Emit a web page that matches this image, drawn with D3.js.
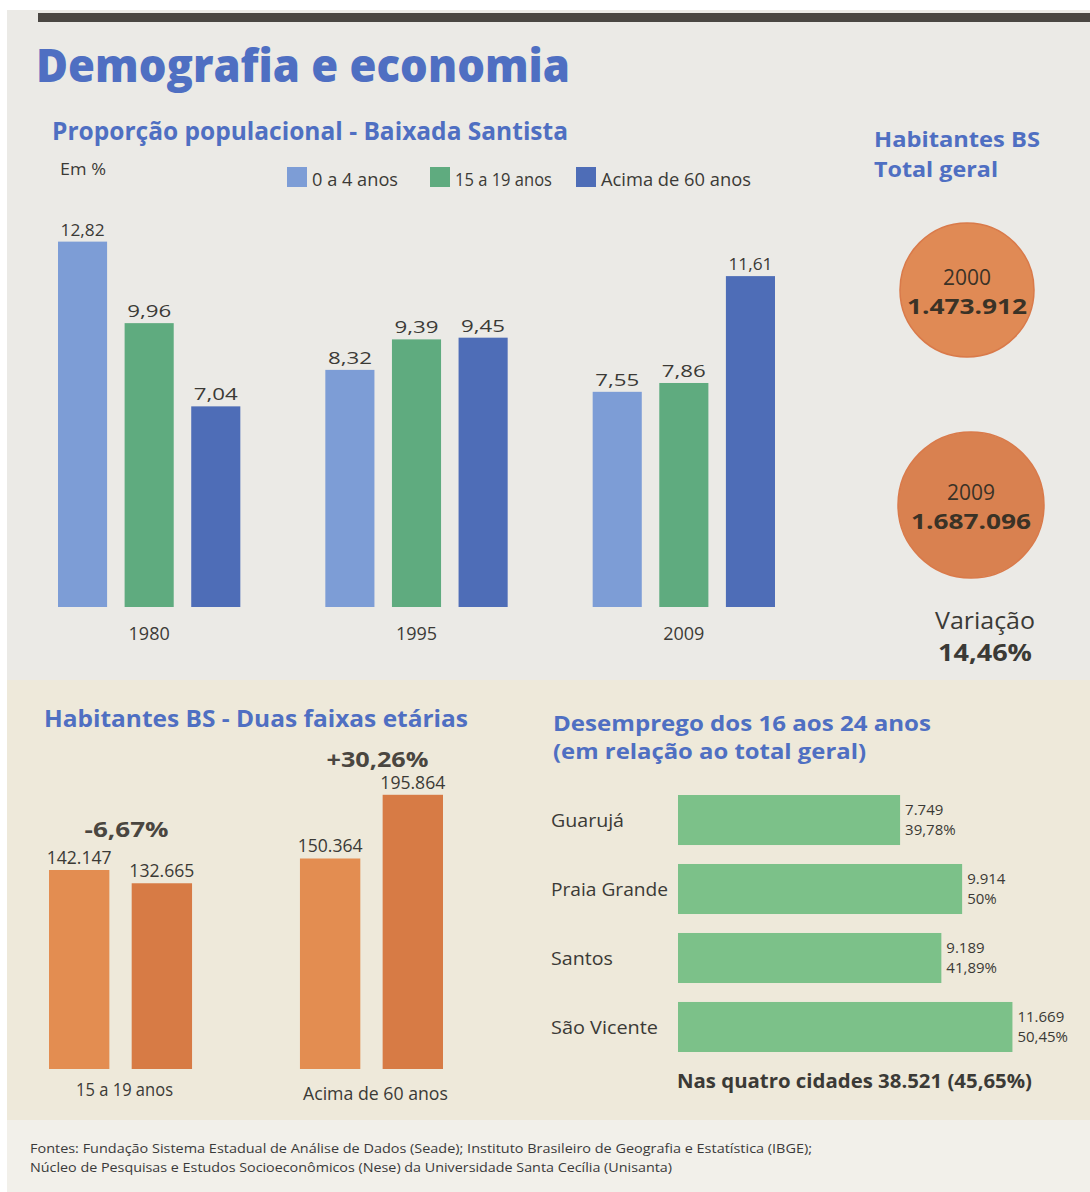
<!DOCTYPE html>
<html>
<head>
<meta charset="utf-8">
<script src="https://cdn.jsdelivr.net/npm/d3@7"></script>
<style>
  body { margin: 0; background: #ffffff; }
  svg text { font-family: "Open Sans", "Noto Sans", sans-serif; }
</style>
</head>
<body>
<div id="vis"></div>
<script>
// proporção populacional (em %)
const anos = ["1980", "1995", "2009"];
const faixas = ["0 a 4 anos", "15 a 19 anos", "Acima de 60 anos"];
const prop0a4 = [12.82, 8.32, 7.55];
const prop15a19 = [9.96, 9.39, 7.86];
const prop60 = [7.04, 9.45, 11.61];

// habitantes total geral
const totalAnos = ["2000", "2009"];
const totalHab = [1473912, 1687096];
const variacao = "14,46%";

// duas faixas etárias
const duasFaixas = ["15 a 19 anos", "Acima de 60 anos"];
const habAntes = [142147, 150364];
const habDepois = [132665, 195864];
const habVar = ["-6,67%", "+30,26%"];

// desemprego 16 a 24 anos
const cidades = ["Guarujá", "Praia Grande", "Santos", "São Vicente"];
const desempregados = [7749, 9914, 9189, 11669];
const desempregoPct = ["39,78%", "50%", "41,89%", "50,45%"];
const totalCidades = "Nas quatro cidades 38.521 (45,65%)";

const fontes = [
  "Fontes: Fundação Sistema Estadual de Análise de Dados (Seade); Instituto Brasileiro de Geografia e Estatística (IBGE);",
  "Núcleo de Pesquisas e Estudos Socioeconômicos (Nese) da Universidade Santa Cecília (Unisanta)"
];

const br = d3.formatLocale({decimal: ",", thousands: ".", grouping: [3], currency: ["R$", ""]});
const fmtPct = br.format(".2f");
const fmtInt = br.format(",d");

const blue = "#4f6fc2";
const ink = "#3b3a36";

const svg = d3.select("#vis")
    .append("svg")
    .attr("width", 1090)
    .attr("height", 1192);

// paper
svg.append("rect").attr("x", 7).attr("y", 10).attr("width", 1083).attr("height", 1182).attr("fill", "#ebeae6");
svg.append("rect").attr("x", 7).attr("y", 680).attr("width", 1083).attr("height", 440).attr("fill", "#eee9da");
svg.append("rect").attr("x", 7).attr("y", 1120).attr("width", 1083).attr("height", 72).attr("fill", "#f2f0ea");
svg.append("rect").attr("x", 38).attr("y", 13).attr("width", 1052).attr("height", 9).attr("fill", "#4a4743");

// text helper, squeezes to a width when given
function label(g, str, x, y, o) {
  o = o || {};
  const t = g.append("text")
      .attr("x", x).attr("y", y)
      .attr("font-size", o.size || 18)
      .attr("font-weight", o.weight || 400)
      .attr("fill", o.fill || ink)
      .attr("text-anchor", o.anchor || "start")
      .text(str);
  if (o.w) t.attr("textLength", o.w).attr("lengthAdjust", "spacingAndGlyphs");
  return t;
}

label(svg, "Demografia e economia", 36, 82, {size: 46, weight: 800, fill: blue, w: 534});
label(svg, "Proporção populacional - Baixada Santista", 52, 140, {size: 25, weight: 700, fill: blue, w: 516});
label(svg, "Em %", 60, 175, {size: 17, w: 46});

// ---- chart 1
const colors1 = ["#7d9dd6", "#5fab7f", "#4e6db7"];
const x0 = d3.scaleBand().domain(anos).range([58, 775]).paddingInner(0.318);
const x1 = d3.scaleBand().domain(faixas).range([0, x0.bandwidth()]).paddingInner(0.263);
const y1 = d3.scaleLinear().domain([0, 13]).range([607, 607 - 13 * 28.5]);

const legend = svg.append("g");
const legX = [287, 430, 576];
faixas.forEach((f, i) => {
  legend.append("rect").attr("x", legX[i]).attr("y", 167).attr("width", 20).attr("height", 20).attr("fill", colors1[i]);
  label(legend, f, legX[i] + 25, 186, {size: 18, w: [86, 97, 150][i]});
});

const rows1 = anos.map((a, i) => ({ano: a, vals: [prop0a4[i], prop15a19[i], prop60[i]]}));
const g1 = svg.append("g");
const grp = g1.selectAll("g.ano").data(rows1).enter().append("g")
    .attr("transform", d => `translate(${x0(d.ano)},0)`);
grp.selectAll("rect").data(d => d.vals.map((v, i) => ({k: faixas[i], v: v, i: i}))).enter().append("rect")
    .attr("x", d => x1(d.k))
    .attr("y", d => y1(d.v))
    .attr("width", x1.bandwidth())
    .attr("height", d => y1(0) - y1(d.v))
    .attr("fill", d => colors1[d.i]);
grp.selectAll("text.v").data(d => d.vals.map((v, i) => ({k: faixas[i], v: v}))).enter().append("text")
    .attr("class", "v")
    .attr("x", d => x1(d.k) + x1.bandwidth() / 2)
    .attr("y", d => y1(d.v) - 6)
    .attr("text-anchor", "middle")
    .attr("font-size", 17)
    .attr("fill", ink)
    .attr("textLength", 44).attr("lengthAdjust", "spacingAndGlyphs")
    .text(d => fmtPct(d.v));
grp.append("text")
    .attr("x", x0.bandwidth() / 2)
    .attr("y", 640)
    .attr("text-anchor", "middle")
    .attr("font-size", 18)
    .attr("fill", ink)
    .text(d => d.ano);

// ---- total geral
label(svg, "Habitantes BS", 874, 147, {size: 21, weight: 700, fill: blue, w: 166});
label(svg, "Total geral", 874, 177, {size: 21, weight: 700, fill: blue, w: 124});
const circ = [{cx: 967, cy: 290, r: 67}, {cx: 971, cy: 505, r: 73}];
totalAnos.forEach((a, i) => {
  const c = circ[i];
  svg.append("circle").attr("cx", c.cx).attr("cy", c.cy).attr("r", c.r)
      .attr("fill", i ? "#d98150" : "#e08a55").attr("stroke", "#d97a4a").attr("stroke-width", 1.5);
  label(svg, a, c.cx, c.cy - 5, {size: 21, anchor: "middle", fill: "#3a3226"});
  label(svg, fmtInt(totalHab[i]), c.cx, c.cy + 24, {size: 21, weight: 700, anchor: "middle", fill: "#3a3226", w: 120});
});
label(svg, "Variação", 985, 629, {size: 23, anchor: "middle", w: 100});
label(svg, variacao, 985, 661, {size: 23, weight: 700, anchor: "middle", w: 94});

// ---- duas faixas etárias
label(svg, "Habitantes BS - Duas faixas etárias", 44, 727, {size: 23, weight: 700, fill: blue, w: 424});
const orange = ["#e38d51", "#d77b45"];
const xa = d3.scaleBand().domain(duasFaixas).range([49, 443]).paddingInner(0.43);
const xb = d3.scaleBand().domain([0, 1]).range([0, xa.bandwidth()]).paddingInner(0.27);
const ya = d3.scaleLinear().domain([0, 200000]).range([1069, 1069 - 0.0014 * 200000]);
const varOffset = [33, 28];
const rows2 = duasFaixas.map((f, i) => ({f: f, vals: [habAntes[i], habDepois[i]], varia: habVar[i]}));
const g2 = svg.selectAll("g.faixa").data(rows2).enter().append("g")
    .attr("transform", d => `translate(${xa(d.f)},0)`);
g2.selectAll("rect").data(d => d.vals.map((v, i) => ({v: v, i: i}))).enter().append("rect")
    .attr("x", d => xb(d.i))
    .attr("y", d => ya(d.v))
    .attr("width", xb.bandwidth())
    .attr("height", d => ya(0) - ya(d.v))
    .attr("fill", d => orange[d.i]);
g2.selectAll("text.v").data(d => d.vals.map((v, i) => ({v: v, i: i}))).enter().append("text")
    .attr("x", d => xb(d.i) + xb.bandwidth() / 2)
    .attr("y", d => ya(d.v) - 6)
    .attr("text-anchor", "middle")
    .attr("font-size", 18)
    .attr("fill", ink)
    .attr("textLength", 65).attr("lengthAdjust", "spacingAndGlyphs")
    .text(d => fmtInt(d.v));
g2.append("text")
    .attr("x", xa.bandwidth() / 2 + 6)
    .attr("y", (d, i) => ya(d3.max(d.vals)) - varOffset[i])
    .attr("text-anchor", "middle")
    .attr("font-size", 22)
    .attr("font-weight", 700)
    .attr("fill", "#4a4640")
    .attr("textLength", (d, i) => i ? 102 : 84).attr("lengthAdjust", "spacingAndGlyphs")
    .text(d => d.varia);
g2.append("text")
    .attr("x", xa.bandwidth() / 2 + 4)
    .attr("y", (d, i) => 1096 + i * 4)
    .attr("text-anchor", "middle")
    .attr("font-size", 18)
    .attr("fill", ink)
    .attr("textLength", (d, i) => i ? 145 : 97).attr("lengthAdjust", "spacingAndGlyphs")
    .text(d => d.f);

// ---- desemprego
label(svg, "Desemprego dos 16 aos 24 anos", 553, 731, {size: 21, weight: 700, fill: blue, w: 378});
label(svg, "(em relação ao total geral)", 553, 759, {size: 21, weight: 700, fill: blue, w: 313});
const yc = d3.scaleBand().domain(cidades).range([795, 1052]).paddingInner(0.275);
const xc = d3.scaleLinear().domain([0, 12000]).range([678, 678 + 0.02866 * 12000]);
const rows3 = cidades.map((c, i) => ({c: c, v: desempregados[i], p: desempregoPct[i]}));
const g3 = svg.append("g");
g3.selectAll("rect").data(rows3).enter().append("rect")
    .attr("x", xc(0))
    .attr("y", d => yc(d.c))
    .attr("width", d => xc(d.v) - xc(0))
    .attr("height", yc.bandwidth())
    .attr("fill", "#7cc189");
const cityW = [73, 117, 62, 107];
g3.selectAll("text.c").data(rows3).enter().append("text")
    .attr("x", 551)
    .attr("y", d => yc(d.c) + yc.bandwidth() / 2 + 7)
    .attr("font-size", 19)
    .attr("fill", ink)
    .attr("textLength", (d, i) => cityW[i]).attr("lengthAdjust", "spacingAndGlyphs")
    .text(d => d.c);
g3.selectAll("text.n").data(rows3).enter().append("text")
    .attr("x", d => xc(d.v) + 5)
    .attr("y", d => yc(d.c) + 20)
    .attr("font-size", 15)
    .attr("fill", ink)
    .text(d => fmtInt(d.v));
g3.selectAll("text.p").data(rows3).enter().append("text")
    .attr("x", d => xc(d.v) + 5)
    .attr("y", d => yc(d.c) + 40)
    .attr("font-size", 15)
    .attr("fill", ink)
    .text(d => d.p);
label(svg, totalCidades, 677, 1088, {size: 19, weight: 700, w: 355});

// ---- fontes
label(svg, fontes[0], 30, 1153, {size: 13, fill: "#3a3a3a", w: 782});
label(svg, fontes[1], 30, 1172, {size: 13, fill: "#3a3a3a", w: 642});
</script>
</body>
</html>
